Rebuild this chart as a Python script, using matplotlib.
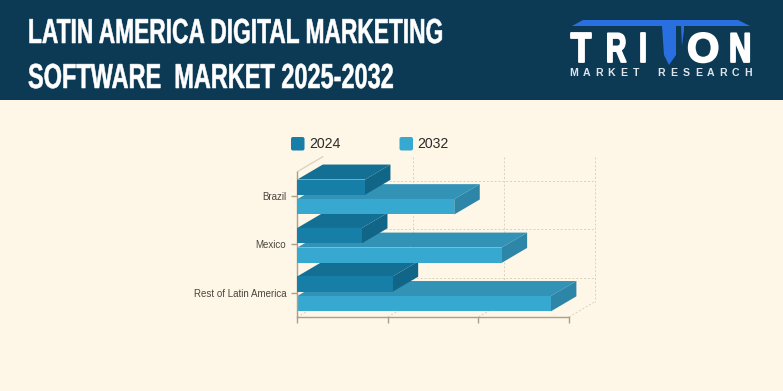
import numpy as np
import matplotlib
matplotlib.use('Agg')
import matplotlib.pyplot as plt
import matplotlib.patheffects as pe
from matplotlib.patches import Polygon, Rectangle, FancyBboxPatch
from matplotlib.transforms import Affine2D

W, H = 783, 391
BG = '#fef6e6'
NAVY = '#0c3a55'
BLUE = '#2a6fe0'

categories = ['Brazil', 'Mexico', 'Rest of Latin America']
values_2024 = [0.747, 0.714, 1.053]
values_2032 = [1.733, 2.256, 2.80]
x_ticks = [0, 1, 2, 3]

# front, top, side
colors_2024 = ['#177ea8', '#136f94', '#116688']
colors_2032 = ['#37a8cf', '#3293b6', '#2d86a8']

title_lines = ['LATIN AMERICA DIGITAL MARKETING', 'SOFTWARE  MARKET 2025-2032']
logo_letters = 'TRION'
sub_logo = 'MARKET RESEARCH'


class SqueezeX(pe.AbstractPathEffect):
    # squeezes a text horizontally around its left edge, no condensed display font here
    def __init__(self, sx, x0, stroke=0):
        super().__init__()
        self.sx = sx
        self.x0 = x0
        self.stroke = stroke

    def draw_path(self, renderer, gc, tpath, affine, rgbFace=None):
        t = affine + Affine2D().translate(-self.x0, 0).scale(self.sx, 1).translate(self.x0, 0)
        gc0 = renderer.new_gc()
        gc0.copy_properties(gc)
        if self.stroke:
            gc0.set_foreground(rgbFace)
            gc0.set_linewidth(self.stroke)
        else:
            gc0.set_linewidth(0)
        renderer.draw_path(gc0, tpath, t, rgbFace)
        gc0.restore()


fig = plt.figure(figsize=(W / 100, H / 100), dpi=100, facecolor=BG)
bg = fig.add_axes([0, 0, 1, 1])
bg.set_xlim(0, W)
bg.set_ylim(H, 0)
bg.axis('off')

# header band
bg.add_patch(Rectangle((0, 0), W, 100, color=NAVY, lw=0))
for line, y, sx in zip(title_lines, [43, 88], [0.655, 0.677]):
    bg.text(28, y, line, color='white', fontsize=25, fontweight='bold',
            family=['Liberation Sans Narrow', 'Liberation Sans'], va='baseline', ha='left',
            path_effects=[SqueezeX(sx, 28, stroke=0.4)])

# logo
bg.add_patch(Polygon([(572, 26), (583, 20), (738, 20), (750, 26), (684, 26), (684, 30), (682, 46),
                      (681, 26), (676, 26), (676, 55), (669, 65), (664, 55), (662, 26)], color=BLUE, lw=0))
for ch, x, sx in zip(logo_letters, [571, 606, 639, 687, 729], [0.8, 0.68, 0.7, 1.0, 0.74]):
    bg.text(x, 62, ch, color='white', fontsize=30, fontweight='bold', family='Liberation Sans',
            ha='left', va='baseline', path_effects=[SqueezeX(sx, x, stroke=1.3)])
for ch, x in zip(sub_logo, np.linspace(574, 748, len(sub_logo))):
    bg.text(x, 73.5, ch, color='#dfe5ea', fontsize=7.6, fontweight='bold',
            family='Liberation Sans', ha='center', va='center')

# chart axes, pixel box
ax_l, ax_r, ax_t, ax_b = 297.3, 569, 171.7, 317
ax = fig.add_axes([ax_l / W, 1 - ax_b / H, (ax_r - ax_l) / W, (ax_b - ax_t) / H])
ax.patch.set_alpha(0)
ax.set_xlim(0, 3)
ax.set_ylim(2.5, -0.5)
for s in ['top', 'right']:
    ax.spines[s].set_visible(False)
for s in ['left', 'bottom']:
    ax.spines[s].set_color('#a89f8e')
    ax.spines[s].set_linewidth(1)
ax.set_xticks(x_ticks)
ax.set_xticklabels([])
ax.set_yticks(range(len(categories)))
ax.set_yticklabels(categories, fontsize=7, color='#4a4640', family='Liberation Sans')
ax.tick_params(axis='x', length=4.5, width=1, color='#a89f8e')
ax.tick_params(axis='y', length=4.5, width=1, color='#a89f8e', pad=3.5)

# depth of the fake 3d in data units
dx = 25.5 / ((ax_r - ax_l) / 3)
dy = -15 / ((ax_b - ax_t) / 3)
bar_h = 0.316
off_2024, off_2032 = -0.18, 0.225
grid_c = '#d9d2c0'

# back wall and floor
top_y = -0.5 + dy
bot_y = 2.5 + dy
for t in x_ticks[1:]:
    ax.plot([t + dx, t + dx], [top_y, bot_y], color=grid_c, lw=0.7, ls=(0, (2, 2)), clip_on=False, zorder=1)
    ax.plot([t, t + dx], [2.5, bot_y], color=grid_c, lw=0.7, ls=(0, (2, 2)), clip_on=False, zorder=1)
for i in range(len(categories)):
    ax.plot([dx, 3 + dx], [i + dy, i + dy], color=grid_c, lw=0.7, ls=(0, (2, 2)), clip_on=False, zorder=1)
ax.plot([0, dx], [-0.5, top_y], color=grid_c, lw=0.9, clip_on=False, zorder=1)
ax.plot([0, dx], [2.5, bot_y], color=grid_c, lw=0.7, ls=(0, (2, 2)), clip_on=False, zorder=1)


def bar3d(v, yc, cols, z):
    y0, y1 = yc - bar_h / 2, yc + bar_h / 2
    ax.add_patch(Polygon([(0, y0), (dx, y0 + dy), (v + dx, y0 + dy), (v, y0)], color=cols[1], lw=0, zorder=z, clip_on=False))
    ax.add_patch(Polygon([(v, y0), (v + dx, y0 + dy), (v + dx, y1 + dy), (v, y1)], color=cols[2], lw=0, zorder=z, clip_on=False))
    ax.barh(yc, v, height=bar_h, color=cols[0], lw=0, zorder=z, clip_on=False)


# painted bottom row first, inside a row 2032 goes under 2024
z = 2
for i in reversed(range(len(categories))):
    bar3d(values_2032[i], i + off_2032, colors_2032, z)
    bar3d(values_2024[i], i + off_2024, colors_2024, z + 1)
    z += 2

# legend
for x, lab, col in [(291, '2024', colors_2024[0]), (399.5, '2032', colors_2032[0])]:
    bg.add_patch(FancyBboxPatch((x + 1.5, 138.5), 10.5, 10.5, boxstyle='round,pad=1.5,rounding_size=2', color=col, lw=0))
    bg.text(x + 18, 144.5, lab, fontsize=10.2, color='#2b2b2b', family='Liberation Sans', va='center', ha='left')

fig.savefig('out.png', dpi=100, facecolor=BG)
